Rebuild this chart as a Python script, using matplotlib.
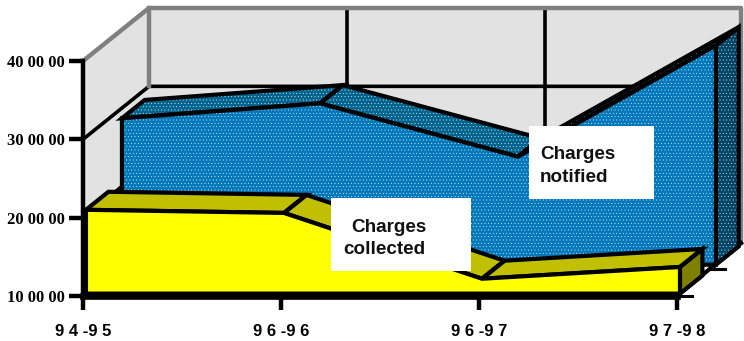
import matplotlib
matplotlib.use("Agg")
import matplotlib.pyplot as plt
from matplotlib.patches import Polygon, Rectangle

plt.rcParams['hatch.linewidth'] = 0.2

categories = ["9 4 -9 5", "9 6 -9 6", "9 6 -9 7", "9 7 -9 8"]
value_ticks = [1000000, 2000000, 3000000, 4000000]
value_labels = ["10 00 00", "20 00 00", "30 00 00", "40 00 00"]
notified = [2870000, 3060000, 2380000, 3800000]
collected = [2070000, 2030000, 1190000, 1340000]

W, H = 744, 341
BASE = 1000000

# one unit of depth shifts a point this far along the category and value axes
DEPTH_X = 66 / 198
DEPTH_Y = 53 / 78.33 * 1000000


def proj(i, v, d):
    return (i + d * DEPTH_X, v + d * DEPTH_Y)


def draw_poly(ax, pts, face, z, hatch=None, lw=3.0):
    ax.add_patch(Polygon(pts, closed=True, fc=face, ec='white' if hatch else 'none', lw=0,
                         hatch=hatch, clip_on=False, zorder=z))
    if lw > 0:
        ax.add_patch(Polygon(pts, closed=True, fc='none', ec='black', lw=lw,
                             joinstyle='miter', clip_on=False, zorder=z + 0.1))


def draw_ribbon(ax, values, d0, d1, front, tops, side, z, hatch=None):
    n = len(values)
    # top surface, one facet per segment, back to front
    for i in range(n - 1):
        pts = [proj(i, values[i], d0), proj(i + 1, values[i + 1], d0),
               proj(i + 1, values[i + 1], d1), proj(i, values[i], d1)]
        draw_poly(ax, pts, tops[i], z, hatch if tops[i] != 'black' else None)
    # closing face on the right hand end
    pts = [proj(n - 1, values[-1], d0), proj(n - 1, values[-1], d1),
           proj(n - 1, BASE, d1), proj(n - 1, BASE, d0)]
    draw_poly(ax, pts, side, z, hatch)
    # front face
    pts = [proj(i, values[i], d0) for i in range(n)]
    pts += [proj(n - 1, BASE, d0), proj(0, BASE, d0)]
    draw_poly(ax, pts, front, z + 0.2, hatch)


fig = plt.figure(figsize=(W / 100, H / 100), dpi=100, facecolor='white')
ax = fig.add_axes([83 / W, 1 - 296 / H, (677 - 83) / W, (296 - 61) / H])
ax.set_xlim(0, 3)
ax.set_ylim(1000000, 4000000)
ax.patch.set_visible(False)

# walls
wall = '#e2e2e2'
grey = '#808080'
ax.add_patch(Polygon([proj(0, 1000000, 0), proj(0, 4000000, 0), proj(0, 4000000, 1), proj(0, 1000000, 1)],
                     closed=True, fc=wall, ec='none', clip_on=False, zorder=0))
ax.add_patch(Polygon([proj(0, 1000000, 1), proj(0, 4000000, 1), proj(2.99, 4000000, 1), proj(2.99, 1000000, 1)],
                     closed=True, fc=wall, ec='none', clip_on=False, zorder=0))

# gridlines along the walls
for v in value_ticks[1:3]:
    a, b, c = proj(0, v, 0), proj(0, v, 1), proj(2.99, v, 1)
    ax.plot([a[0], b[0], c[0]], [a[1], b[1], c[1]], color='black', lw=2.6, clip_on=False, zorder=1)
for i in [1, 2]:
    a, b = proj(i, 1000000, 1), proj(i, 4000000, 1)
    ax.plot([a[0], b[0]], [a[1], b[1]], color='black', lw=2.6, clip_on=False, zorder=1)

# wall outline
a, b, c, e = proj(0, 4000000, 0), proj(0, 4000000, 1), proj(2.99, 4000000, 1), proj(2.99, 1000000, 1)
ax.plot([a[0], b[0], c[0], e[0]], [a[1], b[1], c[1], e[1]], color=grey, lw=3.2, clip_on=False, zorder=1.5)
b = proj(0, 3000000, 1)
ax.plot([b[0], b[0]], [b[1], 4000000 + DEPTH_Y], color=grey, lw=3.2, clip_on=False, zorder=1.5)

# floor edge on the right and its short tick marks
a, b = proj(3, 1000000, 0), proj(2.99, 1000000, 1)
ax.plot([a[0], b[0]], [a[1], b[1]], color='black', lw=3.0, clip_on=False, zorder=2)
for d in [0, 0.5]:
    a = proj(3, 1000000, d)
    ax.plot([a[0], a[0] + 0.075], [a[1], a[1]], color='black', lw=2.2, clip_on=False, zorder=2)

draw_ribbon(ax, notified, 0.59, 0.935, '#0078ba', ['#00648f', '#00648f', '#00283c'], '#004466', 3, hatch='.....')
draw_ribbon(ax, collected, 0.045, 0.385, '#ffff00', ['#c0c000', '#c0c000', '#c0c000'], '#808000', 5)

# axes
for s in ['top', 'right']:
    ax.spines[s].set_visible(False)
ax.spines['left'].set_linewidth(3.2)
ax.spines['bottom'].set_linewidth(4.8)
ax.spines['left'].set_zorder(8)
ax.spines['bottom'].set_zorder(8)
ax.set_xticks(range(4))
ax.set_xticklabels(categories, family='Liberation Sans', weight='bold', fontsize=12)
ax.set_yticks(value_ticks)
ax.set_yticklabels(value_labels, family='Liberation Serif', weight='bold', fontsize=12)
ax.tick_params(axis='x', length=10, width=3.2, pad=10)
ax.tick_params(axis='y', length=10, width=3.2, pad=3)
for t in ax.xaxis.get_major_ticks() + ax.yaxis.get_major_ticks():
    t.tick1line.set_zorder(8)

# white label boxes over the plot
for x0, y0, x1, y1 in [(529, 126, 654, 199), (331, 198, 471, 271)]:
    fig.add_artist(Rectangle((x0 / W, 1 - y1 / H), (x1 - x0) / W, (y1 - y0) / H,
                             transform=fig.transFigure, fc='white', ec='none', zorder=5))
for s, x, y, ha in [("Charges", 540, 154, 'left'), ("notified", 540, 177, 'left'),
                    ("Charges", 388.5, 227, 'center'), ("collected", 384, 250, 'center')]:
    fig.text(x / W, 1 - y / H, s, ha=ha, va='center', family='Liberation Sans', weight='bold',
             fontsize=13.6, color='#111111', zorder=6)

fig.savefig('out.png', dpi=100)
